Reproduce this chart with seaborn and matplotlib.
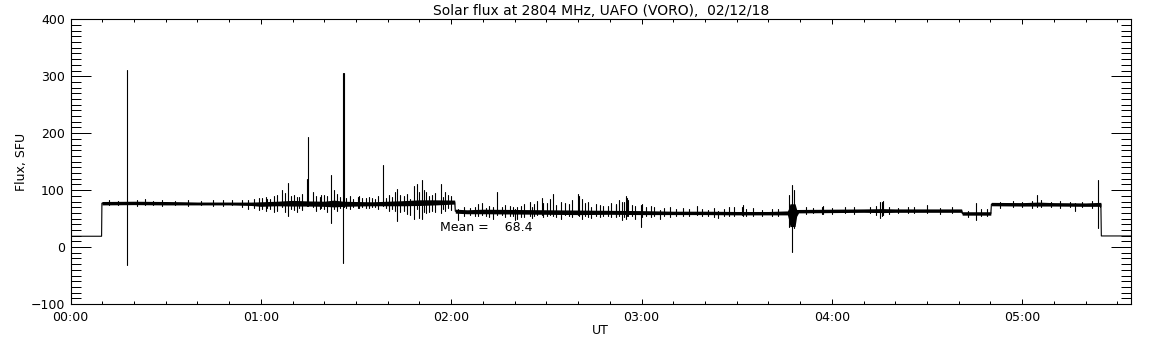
import numpy as np
import pandas as pd
import matplotlib
matplotlib.use('Agg')
import matplotlib.pyplot as plt
from matplotlib.ticker import MultipleLocator, FixedLocator, FixedFormatter
import seaborn as sns

# base level of the record (minutes UT, flux SFU, half-width of the noise band)
base_t = [0, 9.8, 9.9, 20, 30, 40, 50, 57, 60, 65, 70, 75, 80, 83, 86, 90, 95, 100, 105, 110, 115, 121.1,
          121.3, 125, 130, 140, 150, 160, 170, 180, 190, 200, 210, 220, 226.0, 226.4, 226.8, 228.4, 228.9,
          229.5, 240, 250, 256, 260, 270, 280.9, 281.1, 290.1, 290.3, 300, 305, 310, 320, 324.8,
          324.95, 334.3]
base_v = [19, 19, 77, 77.5, 77, 76.5, 76.5, 76, 75.5, 76.5, 77, 76.5, 76, 76.5, 76, 76, 76, 76.5, 77, 78, 78.5, 79,
          63, 62, 62.5, 62, 61.5, 61, 61, 60.5, 60, 60, 59.5, 59.5, 60, 58, 56, 56, 60,
          63, 63.5, 64, 64, 64, 64, 64, 59, 59, 75.5, 75, 75.5, 75, 74.5, 75,
          19.5, 19.5]
base_hw = [0, 0, 3, 3, 3, 2.5, 2.5, 3, 4, 4, 5, 4.5, 4.5, 6, 4.5, 4, 3.5, 4, 4.5, 5, 4.5, 3.5,
           3.5, 3.5, 4, 4, 4, 4, 3.5, 3.5, 3, 3, 3, 3, 3.5, 10, 20, 20, 6,
           3, 3, 3, 3.5, 3, 3, 3, 3, 3, 3, 3, 3.5, 3, 3, 3.5,
           0, 0]

# spikes: time (min), top, bottom
spike_t = [17.7, 23.5, 59.5, 62.0, 66.6, 68.7, 71.3, 74.5, 75.0, 76.5, 79.0, 82.0, 83.1, 86.0, 86.3,
           90.5, 95.0, 98.6, 102.3, 102.8, 107.0, 108.3, 109.1, 109.8, 110.9, 113.0, 116.9, 119.0,
           122.3, 128.5, 129.6, 133.1, 134.5, 138.5, 140.1, 140.6, 144.8, 145.4, 147.1, 148.5, 150.1,
           151.1, 152.0, 155.9, 159.9, 160.4, 161.3, 162.2, 164.0, 168.0, 171.9, 173.0, 173.7, 175.0,
           175.4, 175.8, 179.7, 180.2, 185.8, 197.4, 204.2, 207.7, 209.1, 211.6, 211.9, 226.6, 227.3,
           228.0, 236.8, 237.1, 255.2, 255.7, 256.2, 264.1, 269.9, 285.4, 304.7, 316.6, 324.0, 324.5]
spike_hi = [311, 85, 87, 84, 100, 112, 88, 120, 194, 97, 92, 126, 100, 306, 306,
            88, 86, 144, 96, 102, 84, 108, 110, 96, 118, 90, 111, 92,
            66, 76, 77, 70, 97, 72, 66, 70, 80, 70, 81, 86, 77,
            84, 93, 78, 93, 90, 84, 77, 70, 72, 75, 83, 80, 89,
            87, 83, 74, 75, 65, 72, 64, 71, 69.5, 71, 73, 92, 109,
            100, 71, 72, 80, 80, 81, 69.5, 74, 77, 92, 78, 118, 78]
spike_lo = [-32, 74, 65, 69, 70, 55, 61, 72, 72, 70, 68, 43, 66, -28, 70,
            68, 70, 72, 64, 46, 57, 49, 66, 51, 49, 62, 60, 68,
            47, 55, 56, 49, 56, 54, 47, 49, 55, 51, 56, 56, 55,
            56, 55, 56, 56, 55, 49, 55, 51, 55, 55, 55, 48, 49,
            55, 55, 36, 52, 49, 56, 51, 55, 55, 56, 55, 36, -9,
            33, 58, 58, 51, 55, 56, 60, 60, 47, 70, 64, 33, 70]

# small noise excursions: time (min), top, bottom
jit_t = [12, 15, 21, 26, 29, 33, 37, 41, 45, 48, 51, 54, 56,
         58, 60.5, 61.5, 63, 64, 65, 67.5, 69.5, 70.5, 72, 73, 77.5, 78.5, 80, 81, 84, 85, 87, 88, 89,
         91, 92, 93, 94, 96, 97, 99.5, 100.5, 101.5, 104, 105, 106, 111.5, 112, 114, 115, 117.5, 118, 120,
         124, 126, 127.5, 131, 132, 136, 137, 139.5, 142, 143, 146, 149, 153, 154.5, 157, 158, 163,
         165.5, 167, 169.5, 170.5, 172, 174.5, 177, 178, 181.5, 183, 184, 187, 189, 191, 193, 195, 199,
         201, 203, 206, 213, 215, 218, 221, 223,
         232, 234, 240, 244, 247, 252, 254, 258, 261, 266, 274, 278,
         283, 287, 289,
         293, 297, 300, 303, 306, 309, 312, 315, 319, 322]
jit_hi = [82, 81, 82, 81, 82, 81, 82, 81, 82, 83, 82, 83, 82,
          84, 86, 88, 85, 90, 92, 95, 90, 92, 88, 93, 90, 88, 92, 90, 94, 88, 86, 90, 85,
          89, 87, 86, 88, 85, 90, 86, 92, 88, 92, 90, 94, 100, 96, 92, 95, 88, 97, 90,
          70, 68, 71, 69, 72, 70, 74, 70, 72, 75, 76, 78, 74, 80, 76, 82, 79,
          76, 74, 72, 78, 74, 80, 73, 72, 70, 72, 70, 68, 70, 66, 68, 66, 67,
          65, 68, 66, 66, 68, 65, 66, 67,
          70, 69, 69, 70, 70, 71, 72, 70, 69, 70, 69, 70,
          64, 67, 66,
          80, 81, 80, 81, 82, 80, 81, 80, 80, 81]
jit_lo = [73, 73, 72, 73, 72, 73, 72, 73, 72, 72, 73, 71, 66,
          68, 66, 64, 67, 62, 64, 62, 66, 65, 68, 65, 64, 66, 67, 62, 64, 68, 69, 67, 70,
          68, 70, 69, 68, 70, 67, 68, 64, 66, 62, 64, 58, 62, 60, 64, 62, 66, 63, 65,
          55, 56, 54, 55, 53, 56, 52, 55, 53, 52, 54, 52, 53, 50, 54, 53, 52,
          54, 53, 55, 52, 53, 52, 54, 50, 55, 53, 54, 55, 53, 55, 54, 55, 54,
          55, 53, 54, 55, 54, 55, 54, 55,
          58, 59, 58, 59, 58, 59, 57, 58, 59, 59, 58, 59,
          53, 55, 54,
          69, 70, 70, 69, 70, 70, 68, 70, 70, 69]

mean_flux = 68.4
hour_ticks = [0, 60, 120, 180, 240, 300]
hour_labels = ['00:00', '01:00', '02:00', '03:00', '04:00', '05:00']

# long tables for seaborn
base_df = pd.DataFrame({
    't': base_t * 2,
    'flux': list(np.array(base_v) - np.array(base_hw)) + list(np.array(base_v) + np.array(base_hw)),
})
all_t = spike_t + jit_t
all_hi = spike_hi + jit_hi
all_lo = spike_lo + jit_lo
spk_df = pd.DataFrame({
    'sid': list(range(len(all_t))) * 2,
    't': all_t * 2,
    'flux': all_hi + all_lo,
})

sns.set_style('ticks')
plt.rcParams['font.family'] = ['DejaVu Sans']
plt.rcParams['text.color'] = 'k'
plt.rcParams['axes.labelcolor'] = 'k'

fig = plt.figure(figsize=(11.52, 3.45), dpi=100)
ax = fig.add_axes([70.5 / 1152, 41 / 345, (1131 - 70.5) / 1152, 284.7 / 345])

sns.lineplot(data=base_df, x='t', y='flux', errorbar=('pi', 100), color='k', lw=0.8,
             err_kws={'alpha': 1, 'lw': 0}, legend=False, ax=ax)
sns.lineplot(data=spk_df, x='t', y='flux', units='sid', estimator=None, sort=False,
             color='k', lw=0.8, legend=False, ax=ax)

ax.text(116.5, 35, 'Mean =    %.1f' % mean_flux, fontsize=9, va='center', ha='left', color='k')

ax.set_xlim(0, 334.3)
ax.set_ylim(-100, 400)
ax.xaxis.set_major_locator(FixedLocator(hour_ticks))
ax.xaxis.set_major_formatter(FixedFormatter(hour_labels))
ax.xaxis.set_minor_locator(MultipleLocator(10))
ax.yaxis.set_major_locator(MultipleLocator(100))
ax.yaxis.set_minor_locator(MultipleLocator(10))

ax.tick_params(which='both', direction='in', top=True, right=True, color='k', width=0.72,
               labelsize=9, labelcolor='k')
ax.tick_params(axis='y', which='major', length=14.4, pad=4)
ax.tick_params(axis='y', which='minor', length=7.2)
ax.tick_params(axis='x', which='major', length=3.8, pad=5)
ax.tick_params(axis='x', which='minor', length=2.2)
for s in ax.spines.values():
    s.set_color('k')
    s.set_linewidth(0.8)

ax.set_xlabel('UT', fontsize=9, labelpad=0, color='k')
ax.set_ylabel('Flux, SFU', fontsize=9, labelpad=2, color='k')
ax.set_title('Solar flux at 2804 MHz, UAFO (VORO),  02/12/18', fontsize=10, pad=3, color='k')

fig.savefig('out.png', dpi=100, facecolor='white')
